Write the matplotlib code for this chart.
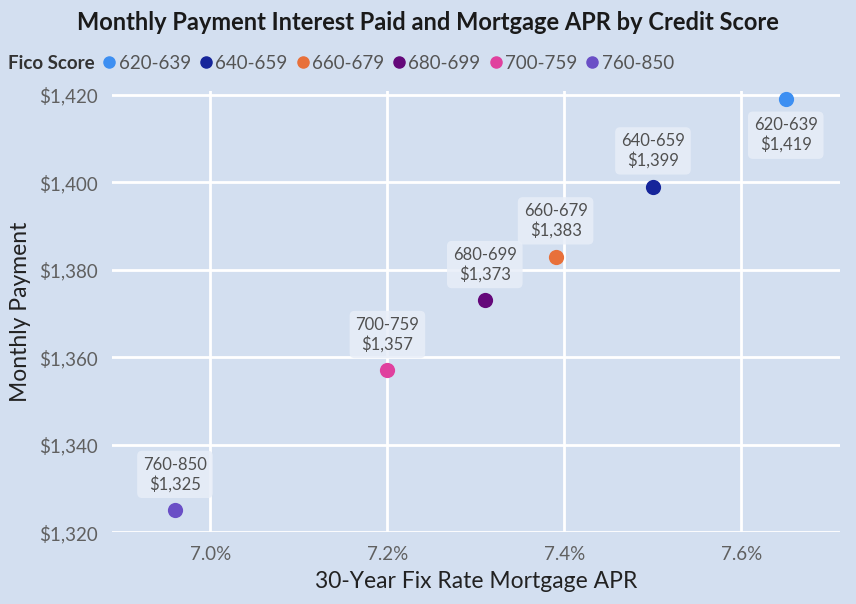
import matplotlib.pyplot as plt
from matplotlib.lines import Line2D
from matplotlib.ticker import FuncFormatter

plt.rcParams['font.family'] = ['Lato', 'DejaVu Sans']

# data
scores = ['620-639', '640-659', '660-679', '680-699', '700-759', '760-850']
apr = [7.65, 7.50, 7.39, 7.31, 7.20, 6.96]
payment = [1419, 1399, 1383, 1373, 1357, 1325]
colors = ['#3d8ff2', '#16259a', '#e8703a', '#64087a', '#e0409e', '#6a4fc6']
label_below = ['620-639']

bg = '#d3dff0'

fig = plt.figure(figsize=(8.56, 6.04), dpi=100, facecolor=bg)
ax = fig.add_axes([0.131, 0.119, 0.850, 0.731], facecolor=bg)

for s, x, y, c in zip(scores, apr, payment, colors):
	ax.scatter(x, y, s=120, color=c, zorder=3, linewidths=0)
	below = s in label_below
	ax.annotate(f'{s}\n${y:,}', (x, y),
		xytext=(0, -13 if below else 13), textcoords='offset points',
		ha='center', va='top' if below else 'bottom',
		fontsize=12, color='#505050', linespacing=1.2, zorder=4,
		bbox=dict(boxstyle='round,pad=0.35,rounding_size=0.3',
			fc='#e8eef8', ec='none', alpha=0.85))

ax.set_xlim(6.889, 7.711)
ax.set_ylim(1320, 1421)
ax.set_xticks([7.0, 7.2, 7.4, 7.6])
ax.set_yticks([1320, 1340, 1360, 1380, 1400, 1420])
ax.xaxis.set_major_formatter(FuncFormatter(lambda v, p: f'{v:.1f}%'))
ax.yaxis.set_major_formatter(FuncFormatter(lambda v, p: f'${v:,.0f}'))
ax.grid(True, color='white', linewidth=2)
ax.set_axisbelow(True)
for sp in ax.spines.values():
	sp.set_visible(False)
ax.tick_params(length=0, labelsize=13.5, labelcolor='#606060', pad=10)

ax.set_xlabel('30-Year Fix Rate Mortgage APR', fontsize=16.5, color='#222222', labelpad=6)
ax.set_ylabel('Monthly Payment', fontsize=16.5, color='#222222', labelpad=6)

fig.text(0.5, 0.962, 'Monthly Payment Interest Paid and Mortgage APR by Credit Score',
	ha='center', va='center', fontsize=17, fontweight='bold', color='#1a1a1a')

# legend: first entry is the bold "Fico Score" title without a marker
handles = [Line2D([], [], ls='none', marker=None)]
handles += [Line2D([], [], marker='o', ls='none', color=c, markersize=8) for c in colors]
leg = fig.legend(handles, ['Fico Score'] + scores, loc='center left',
	bbox_to_anchor=(-0.027, 0.895), ncol=7, frameon=False, fontsize=13.5,
	handletextpad=0.05, columnspacing=0.35, handlelength=0.9, borderpad=0.2,
	labelcolor='#555555')
title_txt = leg.get_texts()[0]
title_txt.set_fontweight('bold')
title_txt.set_color('#333333')
leg.legend_handles[0].set_visible(False)

fig.savefig('out.png', dpi=100, facecolor=bg)
